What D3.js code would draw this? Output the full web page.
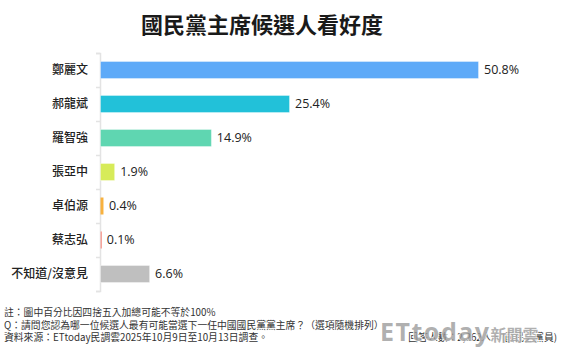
<!DOCTYPE html>
<html>
<head>
<meta charset="utf-8">
<script src="https://cdn.jsdelivr.net/npm/d3@7"></script>
<style>
  body { margin: 0; background: #fff; }
  svg { display: block; font-family: "Noto Sans CJK TC", "Noto Sans", sans-serif; }
</style>
</head>
<body>
<script>
// data
const categories = ['鄭麗文', '郝龍斌', '羅智強', '張亞中', '卓伯源', '蔡志弘', '不知道/沒意見'];
const values = [50.8, 25.4, 14.9, 1.9, 0.4, 0.1, 6.6];
const barColors = ['#5eaaf8', '#22c1d9', '#5fd6b1', '#d7eb59', '#f8b13e', '#f6a49c', '#bfbfbf'];
const notes = [
	'註：圖中百分比因四捨五入加總可能不等於100%',
	'Q：請問您認為哪一位候選人最有可能當選下一任中國國民黨黨主席？（選項隨機排列）',
	'資料來源：ETtoday民調雲2025年10月9日至10月13日調查。'
];

const width = 562, height = 353;
const x0 = 100;

const svg = d3.select('body').append('svg')
	.attr('width', width)
	.attr('height', height);

svg.append('text')
	.attr('x', 262)
	.attr('y', 33)
	.attr('text-anchor', 'middle')
	.attr('font-size', 22)
	.attr('font-weight', 'bold')
	.attr('fill', '#1a1a1a')
	.text('國民黨主席候選人看好度');

const x = d3.scaleLinear().domain([0, 50.8]).range([x0, 478]);
const y = d3.scaleBand().domain(categories).range([53, 291]).paddingInner(0.5).paddingOuter(0.25);
const yIdx = d3.scaleLinear().domain([0, categories.length]).range([53, 291]);

// axis with ticks between categories
const axis = svg.append('g')
	.attr('transform', 'translate(' + x0 + ',0)')
	.call(d3.axisLeft(yIdx).tickValues(d3.range(categories.length + 1)).tickSize(4).tickFormat(''));
axis.select('.domain').attr('stroke', '#e3e3e3').attr('stroke-width', 1.5);
axis.selectAll('.tick line').attr('stroke', '#e3e3e3').attr('stroke-width', 1.5);

// bars
svg.append('g')
	.selectAll('rect')
	.data(values)
	.enter()
	.append('rect')
	.attr('x', x0 + 0.5)
	.attr('y', (d, i) => y(categories[i]))
	.attr('width', d => Math.max(x(d) - x0, 1.5))
	.attr('height', y.bandwidth())
	.attr('fill', (d, i) => barColors[i])
	.attr('stroke', d => d < 1 ? 'none' : 'rgba(255,255,255,0.35)')
	.attr('stroke-width', 1);

// category labels
svg.append('g')
	.selectAll('text')
	.data(categories)
	.enter()
	.append('text')
	.attr('x', 88)
	.attr('y', d => y(d) + y.bandwidth() / 2)
	.attr('dy', '0.35em')
	.attr('text-anchor', 'end')
	.attr('font-size', 12)
	.attr('font-weight', 500)
	.attr('fill', '#222')
	.text(d => d);

// value labels
svg.append('g')
	.selectAll('text')
	.data(values)
	.enter()
	.append('text')
	.attr('x', d => x(d) + 6)
	.attr('y', (d, i) => y(categories[i]) + y.bandwidth() / 2)
	.attr('dy', '0.35em')
	.attr('font-family', '"Open Sans", "Noto Sans", sans-serif')
	.attr('font-size', 12.5)
	.attr('fill', '#222')
	.text(d => d.toFixed(1) + '%');

// notes
svg.append('g')
	.selectAll('text')
	.data(notes)
	.enter()
	.append('text')
	.attr('x', 4)
	.attr('y', (d, i) => 316 + i * 12.5)
	.attr('font-size', 9.8)
	.attr('fill', '#333')
	.text(d => d);

svg.append('text')
	.attr('x', 557)
	.attr('y', 341)
	.attr('text-anchor', 'end')
	.attr('font-size', 9.8)
	.attr('fill', '#333')
	.text('回答人數：2,262人，(國民黨黨員)');

// watermark
const wm = svg.append('text')
	.attr('x', 380)
	.attr('y', 341)
	.attr('font-family', '"Noto Sans", sans-serif')
	.attr('font-size', 25)
	.attr('font-weight', 'bold')
	.attr('letter-spacing', 1.5)
	.attr('fill', 'rgba(150,150,150,0.75)')
	.attr('stroke', '#fff')
	.attr('stroke-width', 1.2)
	.attr('paint-order', 'stroke');
wm.append('tspan').text('ETtoday');
wm.append('tspan').attr('font-size', 16).attr('letter-spacing', 0).attr('font-family', '"Noto Sans CJK TC", sans-serif').text('新聞雲');
</script>
</body>
</html>
